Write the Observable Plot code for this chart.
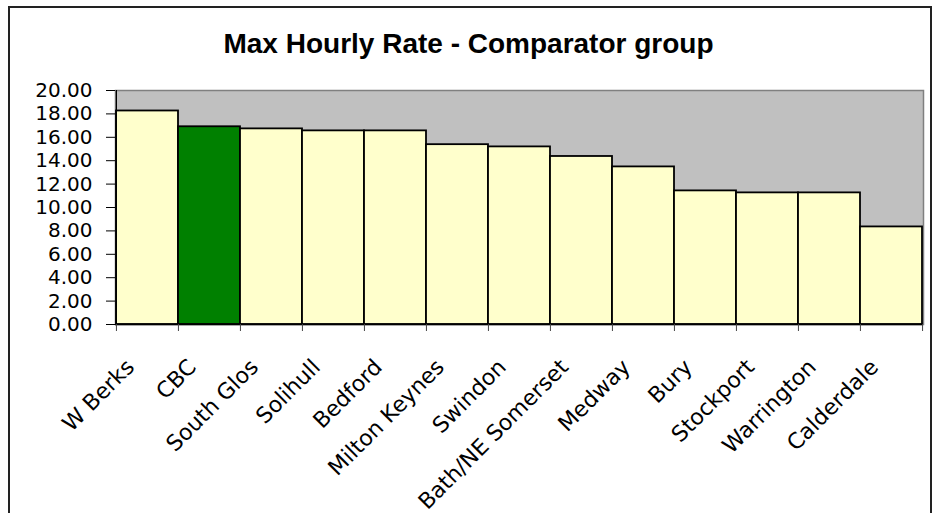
<!DOCTYPE html>
<html><head><meta charset="utf-8">
<script src="https://cdn.jsdelivr.net/npm/d3@7"></script>
<script src="https://cdn.jsdelivr.net/npm/@observablehq/plot@0.6"></script>
<style>
body{margin:0;background:#fff;}
#wrap{position:relative;width:935px;height:513px;overflow:hidden;}
#border{position:absolute;left:8px;top:6px;width:924px;height:520px;border:2px solid #222;box-sizing:border-box;}
#title{position:absolute;left:0;width:937px;top:28px;text-align:center;font-weight:bold;font-size:28px;font-family:"Liberation Sans",Arial,sans-serif;line-height:1.15;}
#chart{position:absolute;left:0;top:0;}
</style></head>
<body><div id="wrap"><div id="border"></div><div id="title">Max Hourly Rate - Comparator group</div><div id="chart"></div></div>
<script>
const categories = ["W Berks","CBC","South Glos","Solihull","Bedford","Milton Keynes","Swindon","Bath/NE Somerset","Medway","Bury","Stockport","Warrington","Calderdale"];
const values = [18.25,16.9,16.72,16.55,16.55,15.37,15.18,14.36,13.47,11.42,11.25,11.25,8.34];
const highlight = "CBC";
const yTicks = [0,2,4,6,8,10,12,14,16,18,20];

const data = categories.map((c,i)=>({cat:c, v:values[i]}));
const W=935, H=513, mL=115, mR=12, mT=90, mB=189;
const bw = (W-mL-mR)/categories.length;

const plot = Plot.plot({
  width: W, height: H,
  marginLeft: mL, marginRight: mR, marginTop: mT, marginBottom: mB,
  style: {fontFamily: "'DejaVu Sans', sans-serif", fontSize: "20px", background: "transparent", color:"#000"},
  x: {domain: categories, padding: 0},
  y: {domain: [0,20], ticks: yTicks},
  marks: [
    Plot.frame({fill:"#c0c0c0", stroke:"#808080", strokeWidth:1.5}),
    Plot.barY(data, {x:"cat", y:"v", fill: d=> d.cat===highlight ? "#008000" : "#ffffcc", stroke:"#000", strokeWidth:1.8}),
    Plot.ruleY([0], {stroke:"#000", strokeWidth:1.5}),
    Plot.ruleX(categories, {x: d=>d, dx: -bw/2, y1: 0, y2: 0, insetBottom: -7, stroke:"#444"}),
    Plot.ruleX([categories[categories.length-1]], {x: d=>d, dx: bw/2, y1: 0, y2: 0, insetBottom: -7, stroke:"#444"}),
    Plot.ruleX([categories[0]], {x: d=>d, dx: -bw/2, y1: 0, y2: 20, stroke:"#000", strokeWidth:1.2}),
    Plot.axisY({ticks: yTicks, tickFormat: d=>d.toFixed(2), tickSize: 9, tickPadding: 14, label: null, fontSize: 20}),
    Plot.axisX({tickSize: 0, tickRotate: -45, tickPadding: 0, dy: 39, dx: -17, label: null, fontSize: 22})
  ]
});
document.getElementById("chart").appendChild(plot);
</script></body></html>
